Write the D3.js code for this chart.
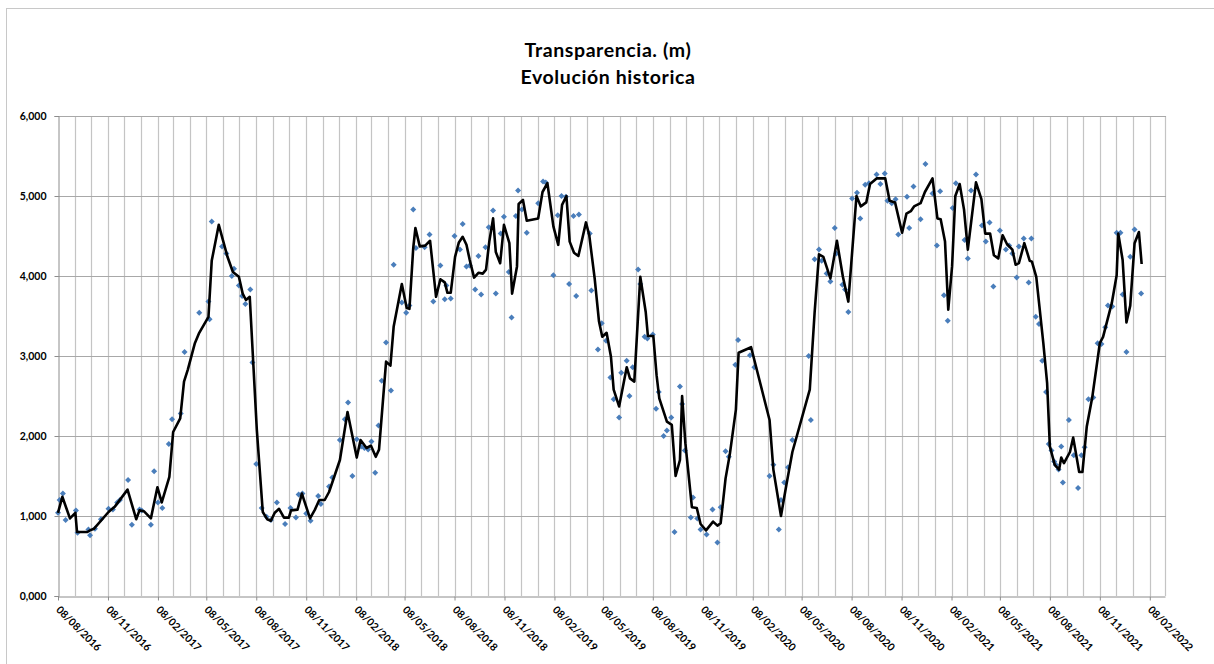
<!DOCTYPE html>
<html><head><meta charset="utf-8">
<script src="https://cdn.jsdelivr.net/npm/d3@7"></script>
<style>
html,body{margin:0;padding:0;background:#fff;}
svg{display:block;font-family:Lato,"Liberation Sans",sans-serif;}
</style></head><body>
<svg id="chart" width="1214" height="664"></svg>
<script>
const titleLines = ["Transparencia. (m)", "Evolución historica"];
const yTickValues = [0, 1, 2, 3, 4, 5, 6];
const xTickLabels = ["08/08/2016","08/11/2016","08/02/2017","08/05/2017","08/08/2017","08/11/2017",
  "08/02/2018","08/05/2018","08/08/2018","08/11/2018","08/02/2019","08/05/2019","08/08/2019",
  "08/11/2019","08/02/2020","08/05/2020","08/08/2020","08/11/2020","08/02/2021","08/05/2021",
  "08/08/2021","08/11/2021","08/02/2022"];

// sample day number counted from 08/08/2016
const pointDays = [0,3,9,14,33,36,56,59,68,79,93,101,109,114,129,136,150,154,171,177,184,192,204,210,226,233,
  260,277,279,283,302,310,320,324,333,339,345,354,358,365,375,384,392,403,418,428,438,443,450,457,465,479,484,
  499,505,519,528,534,542,550,558,564,571,577,584,590,596,604,613,618,633,641,647,654,659,675,684,691,704,712,
  715,723,730,740,745,752,758,768,774,779,787,793,801,806,815,821,830,835,843,847,854,863,884,893,898,912,920,
  927,935,941,949,954,959,979,982,994,1001,1009,1017,1023,1033,1037,1047,1052,1058,1068,1072,1080,1085,1095,
  1101,1106,1115,1121,1129,1135,1145,1149,1154,1165,1169,1177,1183,1194,1205,1214,1220,1229,1235,1247,1252,
  1274,1282,1310,1317,1327,1331,1337,1344,1352,1382,1386,1393,1401,1406,1415,1422,1430,1433,1444,1449,1455,
  1462,1471,1477,1486,1493,1507,1514,1522,1527,1535,1542,1547,1563,1567,1575,1588,1597,1610,1618,1624,1631,
  1638,1647,1653,1669,1675,1681,1690,1701,1708,1715,1722,1734,1745,1751,1757,1765,1769,1778,1787,1792,1800,
  1806,1812,1819,1824,1829,1834,1837,1842,1847,1850,1861,1870,1878,1884,1890,1897,1906,1914,1921,1928,1933,
  1941,1949,1956,1960,1967,1974,1982,1994];
const pointValues = [1.04,1.20,1.28,0.95,1.07,0.79,0.83,0.76,0.84,0.96,1.09,1.08,1.17,1.20,1.45,0.89,1.08,1.07,
  0.89,1.56,1.17,1.10,1.90,2.21,2.28,3.05,
  3.54,3.68,3.46,4.68,4.37,4.28,4.00,4.09,3.88,3.75,3.65,3.83,2.92,1.65,1.10,0.99,0.95,1.17,0.90,1.10,0.98,1.27,
  1.28,1.03,0.94,1.25,1.15,
  1.37,1.48,1.95,2.21,2.42,1.50,1.96,1.87,1.85,1.83,1.93,1.54,2.13,2.69,3.17,2.57,4.14,3.67,3.54,3.63,4.83,4.35,
  4.36,4.52,3.68,4.13,3.71,
  3.88,3.72,4.50,4.33,4.65,4.12,4.13,3.83,4.25,3.77,4.36,4.61,4.82,3.78,4.53,4.74,4.05,3.48,4.75,5.07,4.83,4.54,
  4.91,5.18,5.17,4.01,4.76,
  5.00,4.99,3.90,4.75,3.75,4.77,4.53,3.82,3.08,3.41,3.19,2.73,2.46,2.23,2.79,2.94,2.50,2.86,4.08,3.90,3.24,3.22,
  3.27,
  2.34,2.55,2.00,2.07,2.23,0.80,2.62,2.40,1.82,0.98,1.23,0.97,0.83,0.77,1.08,0.67,1.11,1.81,1.74,2.89,3.20,
  3.01,2.86,1.50,1.64,0.83,1.20,1.42,1.61,1.95,3.00,2.20,4.21,4.33,4.19,4.03,3.93,4.60,4.28,3.89,3.83,3.55,
  4.97,5.04,4.72,5.14,5.16,5.27,5.15,5.28,4.94,4.91,4.96,4.52,4.99,4.60,5.12,4.71,5.40,5.03,4.38,5.06,3.76,
  3.44,4.85,5.16,4.45,4.22,5.07,5.27,4.63,4.43,4.67,3.87,4.57,4.33,4.38,4.28,3.98,4.37,4.47,3.92,4.47,3.49,
  3.40,2.94,2.55,1.90,1.82,1.68,1.64,1.58,1.87,1.42,2.20,1.76,1.35,1.76,1.86,2.46,2.48,3.16,3.15,3.36,3.63,
  3.62,4.54,4.54,3.77,3.05,4.24,4.58,3.78];

const lineDays = [0,8,22,32,35,54,59,66,93,105,128,144,150,158,171,183,191,205,212,225,232,239,252,260,277,283,
  296,312,322,333,340,346,353,366,377,385,392,399,407,416,425,429,441,449,464,473,481,491,499,519,533,550,557,
  568,576,585,591,604,612,618,633,642,647,654,658,666,676,685,696,704,712,717,723,731,738,745,752,758,766,774,
  782,788,794,801,806,814,821,831,836,845,848,856,863,884,892,901,912,921,928,936,942,950,958,972,978,988,996,
  1002,1010,1018,1023,1033,1047,1053,1061,1072,1082,1086,1096,1102,1107,1121,1130,1137,1145,1149,1155,1167,
  1176,1183,1193,1206,1214,1220,1229,1237,1248,1253,1276,1310,1317,1331,1341,1352,1384,1393,1401,1409,1422,
  1434,1445,1455,1470,1478,1488,1495,1507,1523,1531,1541,1554,1562,1570,1576,1588,1596,1610,1619,1625,1633,
  1639,1646,1652,1660,1668,1675,1690,1700,1707,1716,1723,1731,1739,1747,1757,1763,1769,1779,1789,1793,1801,
  1814,1821,1826,1835,1843,1847,1852,1863,1869,1880,1886,1894,1904,1918,1924,1940,1949,1952,1960,1967,1974,
  1982,1990,1995];
const lineValues = [1.04,1.24,0.97,1.04,0.80,0.80,0.82,0.84,1.05,1.12,1.33,0.96,1.07,1.06,0.97,1.36,1.17,1.49,2.05,
  2.22,2.68,2.83,3.16,3.29,3.49,4.19,
  4.64,4.24,4.05,3.99,3.78,3.70,3.74,2.08,1.05,0.96,0.94,1.04,1.09,0.98,0.98,1.07,1.08,1.28,0.97,1.08,1.20,1.20,
  1.30,1.70,2.30,1.73,1.95,
  1.85,1.88,1.74,1.83,2.93,2.88,3.37,3.90,3.60,3.59,4.35,4.60,4.37,4.38,4.44,3.74,3.96,3.92,3.79,3.79,4.24,4.42,
  4.49,4.39,4.20,3.98,4.04,
  4.03,4.08,4.43,4.72,4.30,4.16,4.64,4.41,3.78,4.12,4.90,4.95,4.69,4.72,5.05,5.16,4.62,4.39,4.89,5.00,4.43,4.29,
  4.25,4.67,4.51,3.97,3.43,
  3.24,3.29,2.99,2.58,2.37,2.86,2.72,2.68,3.99,3.55,3.25,3.25,2.76,2.47,2.18,2.14,1.50,1.70,2.50,1.91,1.11,
  1.10,0.90,0.82,0.93,0.88,0.91,1.47,1.78,2.33,3.04,3.11,2.20,1.58,1.00,1.39,1.80,2.58,3.55,4.27,4.24,3.97,
  4.44,3.99,3.68,5.00,4.87,4.92,5.15,5.22,5.22,4.94,4.92,4.54,4.78,4.81,4.87,4.91,5.05,5.22,4.72,4.71,4.43,
  3.58,4.12,5.00,5.15,4.83,4.33,5.17,4.96,4.53,4.53,4.26,4.22,4.51,4.40,4.33,4.14,4.16,4.41,4.19,4.18,3.99,
  3.16,2.66,1.87,1.64,1.58,1.73,1.66,1.80,1.98,1.55,1.55,2.12,2.48,3.16,3.24,3.66,4.01,4.53,4.20,3.42,3.63,
  4.41,4.55,4.15];

const parse = d3.timeParse("%d/%m/%Y");
const startDate = parse(xTickLabels[0]);
const tickDates = xTickLabels.map(parse);
const endDate = d3.timeMonth.offset(tickDates[tickDates.length - 1], 1);
const toDate = d => d3.timeDay.offset(startDate, d);

const points = pointDays.map((d, i) => ({date: toDate(d), value: pointValues[i]}));
const linePts = lineDays.map((d, i) => ({date: toDate(d), value: lineValues[i]}));

const M = {left: 58, right: 1165, top: 116, bottom: 596};
const x = d3.scaleTime().domain([startDate, endDate]).range([M.left, M.right]);
const y = d3.scaleLinear().domain([0, 6]).range([M.bottom, M.top]);

const svg = d3.select("#chart");
const es = d3.formatLocale({decimal: ",", thousands: ".", grouping: [3], currency: ["", "€"]});
const fmtY = es.format(".3f");

// chart area border
svg.append("rect").attr("x", 6.5).attr("y", 8.5).attr("width", 1230).attr("height", 680)
  .attr("fill", "none").attr("stroke", "#c8c8c8").attr("stroke-width", 1);

// title
svg.append("g").selectAll("text").data(titleLines).join("text")
  .attr("x", 608).attr("y", (d, i) => 57 + i * 26.5)
  .attr("text-anchor", "middle").attr("font-size", 19.5).attr("font-weight", 700)
  .attr("letter-spacing", 0.6)
  .attr("fill", "#000").text(d => d);

// vertical monthly gridlines
const monthDates = d3.range(1, d3.timeMonth.count(startDate, endDate) + 1).map(i => d3.timeMonth.offset(startDate, i));
svg.append("g").selectAll("line").data(monthDates).join("line")
  .attr("x1", d => Math.round(x(d)) + 0.5).attr("x2", d => Math.round(x(d)) + 0.5)
  .attr("y1", M.top).attr("y2", M.bottom)
  .attr("stroke", "#c4c4c4").attr("stroke-width", 1.2);

// horizontal gridlines
svg.append("g").selectAll("line").data(yTickValues.filter(v => v > 0)).join("line")
  .attr("x1", M.left).attr("x2", M.right + 1)
  .attr("y1", d => Math.round(y(d)) + 0.5).attr("y2", d => Math.round(y(d)) + 0.5)
  .attr("stroke", "#a8a8a8").attr("stroke-width", 1);

// y axis
const yAxis = svg.append("g").attr("transform", `translate(${M.left + 0.5},0)`)
  .call(d3.axisLeft(y).tickValues(yTickValues).tickFormat(fmtY).tickSize(4).tickPadding(8));
yAxis.select(".domain").attr("stroke", "#8c8c8c");
yAxis.selectAll(".tick line").attr("stroke", "#8c8c8c");
yAxis.selectAll(".tick text").attr("font-size", 10.5).attr("font-weight", 700)
  .attr("font-family", "Lato, 'Liberation Sans', sans-serif").attr("fill", "#000");

// x axis
const xAxis = svg.append("g").attr("transform", `translate(0,${M.bottom + 0.5})`)
  .call(d3.axisBottom(x).tickValues(tickDates).tickFormat(d3.timeFormat("%d/%m/%Y")).tickSize(4).tickSizeOuter(0));
xAxis.select(".domain").attr("stroke", "#8c8c8c");
xAxis.selectAll(".tick line").attr("stroke", "#8c8c8c");
xAxis.selectAll(".tick text")
  .attr("font-size", 10.5).attr("font-weight", 700)
  .attr("font-family", "Lato, 'Liberation Sans', sans-serif").attr("fill", "#000")
  .attr("text-anchor", "start").attr("y", 0).attr("dy", 0)
  .attr("transform", "translate(-3,14) rotate(45)");

// scatter points (diamonds)
svg.append("g").selectAll("path").data(points).join("path")
  .attr("d", d3.symbol(d3.symbolSquare, 18))
  .attr("transform", d => `translate(${x(d.date)},${y(d.value)}) rotate(45)`)
  .attr("fill", "#4a7ebb");

// black line
svg.append("path").datum(linePts)
  .attr("d", d3.line().x(d => x(d.date)).y(d => y(d.value)))
  .attr("fill", "none").attr("stroke", "#000").attr("stroke-width", 2.6)
  .attr("stroke-linejoin", "round");
</script>
</body></html>
